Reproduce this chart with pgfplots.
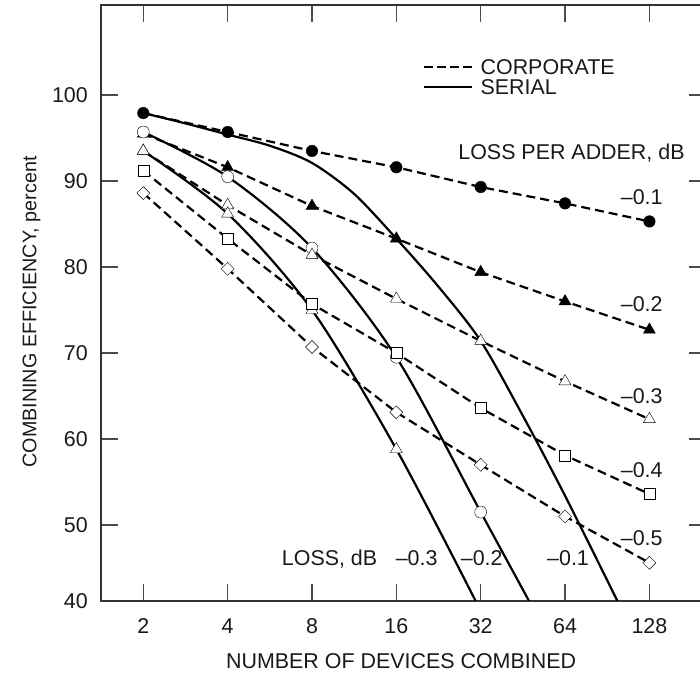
\documentclass[border=0pt]{standalone}
\usepackage{fontspec}
\setmainfont{Liberation Sans}
\usepackage{pgfplots}
\usepackage{pgfplotstable}
\pgfplotsset{compat=1.18}

% Corporate (tree) combiner: efficiency in percent for each loss per adder
\pgfplotstableread{
N    l01   l02   l03   l04   l05
2    97.9  95.5  93.5  91.2  88.6
4    95.7  91.6  87.2  83.3  79.8
8    93.5  87.1  81.4  75.7  70.7
16   91.6  83.3  76.3  70.0  63.1
32   89.3  79.4  71.4  63.6  57.0
64   87.4  76.0  66.7  58.1  51.0
128  85.3  72.7  62.3  53.6  45.6
}\corporate

% Serial (chain) combiner, loss -0.1 dB
\pgfplotstableread{
N      eff
2      97.9
2.83   96.7
4      95.4
5.66   94.1
8      92.1
11.31  88.5
16     83.3
22.63  77.7
32     71.4
45.25  62.7
64     53.4
98.4   41.16
}\serialA

% Serial combiner, loss -0.2 dB
\pgfplotstableread{
N     eff
2     95.7
4     90.5
8     82.2
16    69.5
32    51.5
47.6  41.16
}\serialB

% Serial combiner, loss -0.3 dB
\pgfplotstableread{
N     eff
2     93.5
4     86.2
8     75.0
16    58.8
30.7  41.16
}\serialC

\pgfplotsset{
  corp/.style={black, line width=2.2bp, dash pattern=on 9bp off 5bp, no markers, forget plot},
  ser/.style={black, line width=2.2bp, smooth, no markers, forget plot},
  mk/.style={only marks, forget plot, mark options={solid, line width=1.3bp, draw=black}},
}
\tikzset{lbl/.style={inner sep=0pt, text=black!90}}

\begin{document}
\begin{tikzpicture}[font=\fontsize{21.5}{25}\selectfont]
\begin{axis}[
  at={(101bp,73bp)}, anchor=south west,
  scale only axis, width=605bp, height=596bp,
  xmode=log, log basis x=2,
  xmin=1.4128, xmax=203.8,
  ymin=41.16, ymax=110.47,
  xtick={2,4,8,16,32,64,128},
  xticklabels={2,4,8,16,32,64,128},
  ytick={41.16,50,60,70,80,90,100},
  yticklabels={40,50,60,70,80,90,100},
  minor xtick={}, minor ytick={},
  tick align=inside,
  major tick length=17bp,
  xtick pos=both, ytick pos=both,
  xticklabel pos=lower, yticklabel pos=left,
  every tick/.style={black!70, line width=1.3bp},
  axis line style={black!80, line width=1.5bp},
  /pgf/number format/assume math mode=true,
  xticklabel style={anchor=base, inner sep=0pt, yshift=-32.5bp, text=black!90},
  yticklabel style={anchor=east, inner sep=0pt, xshift=-13bp, text=black!90},
  xlabel={NUMBER OF DEVICES COMBINED},
  ylabel={COMBINING EFFICIENCY, percent},
  xlabel style={at={(axis description cs:0.496,-0.1125)}, anchor=base, inner sep=0pt, text=black!90},
  ylabel style={at={(axis description cs:-0.107,0.485)}, anchor=base, inner sep=0pt, text=black!90,
    font=\fontsize{19.8}{23}\selectfont},
  clip mode=individual,
  legend cell align=left,
  legend style={at={(axis description cs:0.5318,0.9125)}, anchor=north west,
    draw=none, fill=none, inner sep=0pt, row sep=0pt, column sep=5.5bp,
    nodes={inner sep=2.3bp, text depth=0pt, text=black!90}},
  legend image code/.code={\draw[#1] (0bp,0bp) -- (47.7bp,0bp);},
]
\addlegendimage{black, line width=2.2bp, dash pattern=on 8.5bp off 4.5bp}
\addlegendentry{CORPORATE}
\addlegendimage{black, line width=2.2bp}
\addlegendentry{SERIAL}

% corporate curves
\addplot[corp] table[x=N, y=l01] {\corporate};
\addplot[corp] table[x=N, y=l02] {\corporate};
\addplot[corp] table[x=N, y=l03] {\corporate};
\addplot[corp] table[x=N, y=l04] {\corporate};
\addplot[corp] table[x=N, y=l05] {\corporate};

% serial curves
\addplot[ser] table[x=N, y=eff] {\serialA};
\addplot[ser] table[x=N, y=eff] {\serialB};
\addplot[ser] table[x=N, y=eff] {\serialC};

% markers
\addplot[mk, mark=*, mark size=5.8bp, mark options={fill=black}] table[x=N, y=l01] {\corporate};
\addplot[mk, mark=triangle*, mark size=6.9bp, mark options={fill=black}] table[x=N, y=l02] {\corporate};
\addplot[mk, mark=*, mark size=6bp, mark options={fill=white},
  skip coords between index={5}{6}] table[x=N, y=eff] {\serialB};
\addplot[mk, mark=triangle*, mark size=6.9bp, mark options={fill=white}] table[x=N, y=l03] {\corporate};
\addplot[mk, mark=triangle*, mark size=6.9bp, mark options={fill=white},
  skip coords between index={4}{5}] table[x=N, y=eff] {\serialC};
\addplot[mk, mark=square*, mark size=5.5bp, mark options={fill=white}] table[x=N, y=l04] {\corporate};
\addplot[mk, mark=square*, mark size=4.6bp, mark options={fill=white, rotate=45}] table[x=N, y=l05] {\corporate};

% curve labels
\node[lbl, anchor=base west] at (axis cs:26.6,92.56) {LOSS PER ADDER, dB};
\node[lbl, anchor=base] at (axis cs:120.2,87.29) {\textendash0.1};
\node[lbl, anchor=base] at (axis cs:120.2,74.85) {\textendash0.2};
\node[lbl, anchor=base] at (axis cs:120.2,64.15) {\textendash0.3};
\node[lbl, anchor=base] at (axis cs:120.2,55.55) {\textendash0.4};
\node[lbl, anchor=base] at (axis cs:120.2,47.64) {\textendash0.5};
\node[lbl, anchor=base west] at (axis cs:6.24,45.31) {LOSS, dB};
\node[lbl, anchor=base] at (axis cs:18.91,45.31) {\textendash0.3};
\node[lbl, anchor=base] at (axis cs:32.27,45.31) {\textendash0.2};
\node[lbl, anchor=base] at (axis cs:65.6,45.31) {\textendash0.1};
\end{axis}
\pgfresetboundingbox
\path[use as bounding box] (0bp,0bp) rectangle (700bp,674bp);
\end{tikzpicture}
\end{document}
